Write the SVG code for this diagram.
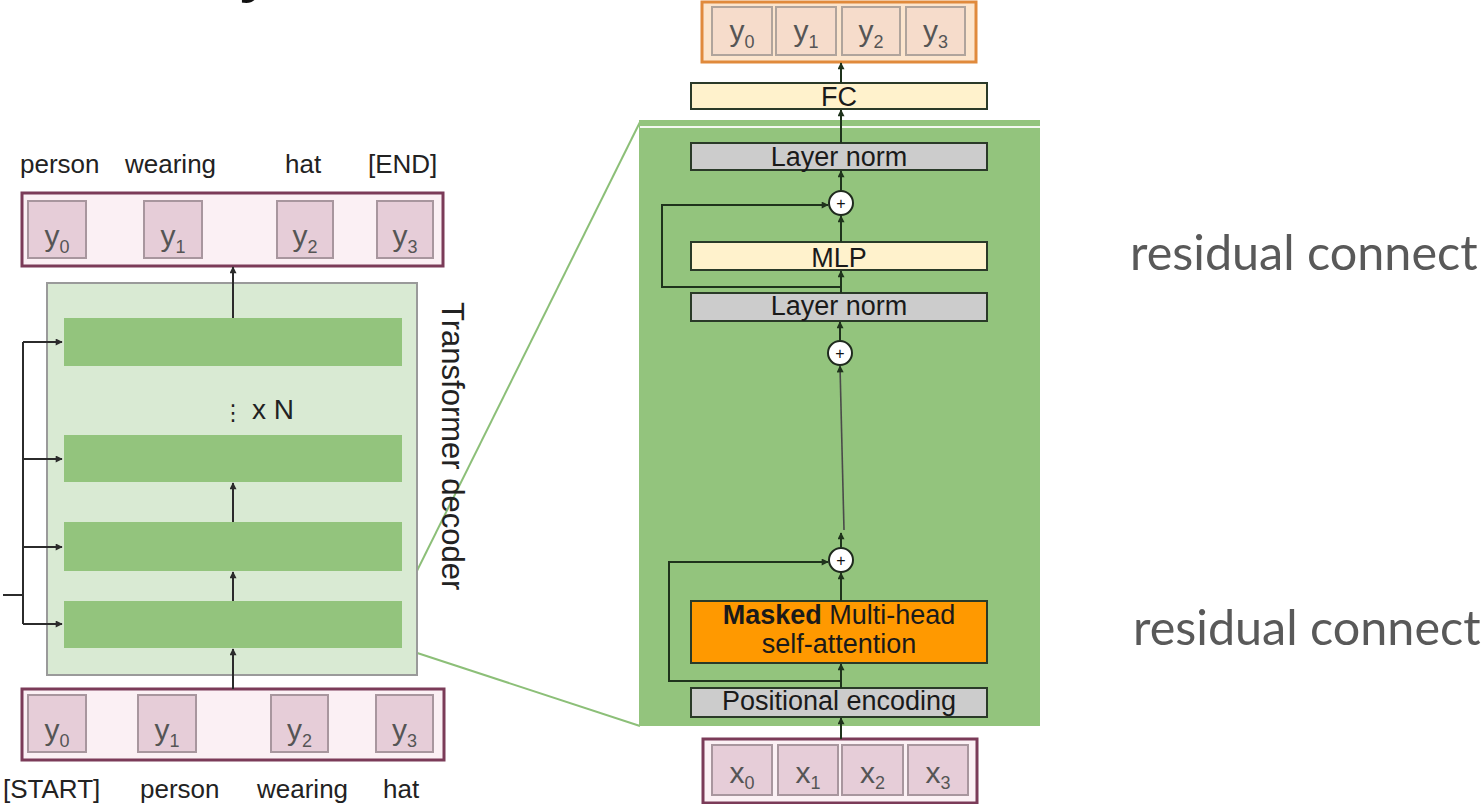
<svg xmlns="http://www.w3.org/2000/svg" width="1482" height="804" viewBox="0 0 1482 804">
<defs>
<marker id="ah" viewBox="0 0 10 10" refX="9" refY="5" markerWidth="8" markerHeight="7" markerUnits="userSpaceOnUse" orient="auto"><path d="M0,0 L10,5 L0,10 z" fill="#2b2b2b"/></marker>
<marker id="ahg" viewBox="0 0 10 10" refX="9" refY="5" markerWidth="8" markerHeight="7" markerUnits="userSpaceOnUse" orient="auto"><path d="M0,0 L10,5 L0,10 z" fill="#1f331c"/></marker>
</defs>
<style>
.lbl{font-family:"Liberation Sans",Arial,sans-serif;font-size:26px;fill:#222}
.sym{font-family:"Liberation Sans",Arial,sans-serif;font-size:30px;fill:#555}
.sub{font-size:18px}
.seqbox{fill:#fbf0f4;stroke:#7b3b58;stroke-width:3}
.cell{fill:#e6cdd8;stroke:#a8969e;stroke-width:2}
.ocell{fill:#f6dccb;stroke:#b0a49c;stroke-width:2}
.bar{fill:#93c47d}
.blk{font-family:"Liberation Sans",Arial,sans-serif;font-size:27px;fill:#1a1a1a;text-anchor:middle}
.gray{fill:#cccccc;stroke:#2a3a28;stroke-width:2}
.yel{fill:#fff2cc;stroke:#2a3a28;stroke-width:2}
.ln{stroke:#2b2b2b;stroke-width:2;fill:none}
.lg{stroke:#1f331c;stroke-width:2;fill:none}
.zoom{stroke:#8cbf78;stroke-width:2;fill:none}
.res{font-family:Lato,"Open Sans",sans-serif;font-size:48.5px;fill:#595959}
.plus{fill:#ffffff;stroke:#1f2a1e;stroke-width:2}
.pl{font-family:"Liberation Sans",sans-serif;font-size:16px;fill:#111;text-anchor:middle}
</style>

<text x="240" y="-10" font-family="'Open Sans',sans-serif" font-weight="bold" font-size="56" fill="#111">y</text>

<g id="zoom-lines">
<line class="zoom" x1="402" y1="601" x2="640" y2="122"/>
<line class="zoom" x1="402" y1="648" x2="640" y2="726"/>
</g>

<g id="top-labels">
<text class="lbl" x="20" y="173">person</text>
<text class="lbl" x="125" y="173">wearing</text>
<text class="lbl" x="285" y="173">hat</text>
<text class="lbl" x="368" y="173">[END]</text>
</g>

<g id="output-seq">
<rect class="seqbox" x="22" y="193" width="421" height="73"/>
<rect class="cell" x="28" y="201" width="58" height="57"/>
<rect class="cell" x="144" y="201" width="58" height="57"/>
<rect class="cell" x="277" y="201" width="56" height="57"/>
<rect class="cell" x="377" y="201" width="56" height="57"/>
<text class="sym" x="57" y="246" text-anchor="middle">y<tspan class="sub" dy="7">0</tspan></text>
<text class="sym" x="173" y="246" text-anchor="middle">y<tspan class="sub" dy="7">1</tspan></text>
<text class="sym" x="305" y="246" text-anchor="middle">y<tspan class="sub" dy="7">2</tspan></text>
<text class="sym" x="405" y="246" text-anchor="middle">y<tspan class="sub" dy="7">3</tspan></text>
</g>

<g id="transformer-decoder">
<rect x="47" y="283" width="370" height="392" fill="#d9ead3" stroke="#9a9a9a" stroke-width="2"/>
<rect class="bar" x="64" y="318" width="338" height="48"/>
<rect class="bar" x="64" y="435" width="338" height="47"/>
<rect class="bar" x="64" y="522" width="338" height="49"/>
<rect class="bar" x="64" y="601" width="338" height="47"/>
<text x="222" y="420" font-family="'DejaVu Sans',sans-serif" font-size="22" fill="#222">⋮</text>
<text x="252" y="419" font-family="'Liberation Sans',Arial,sans-serif" font-size="28" fill="#222">x N</text>
<text transform="translate(442,302) rotate(90)" font-family="'Liberation Sans',Arial,sans-serif" font-size="31" fill="#222">Transformer decoder</text>
</g>

<g id="input-seq">
<rect class="seqbox" x="22" y="689" width="422" height="71"/>
<rect class="cell" x="28" y="695" width="58" height="57"/>
<rect class="cell" x="138" y="695" width="58" height="57"/>
<rect class="cell" x="271" y="695" width="57" height="57"/>
<rect class="cell" x="376" y="695" width="57" height="57"/>
<text class="sym" x="57" y="740" text-anchor="middle">y<tspan class="sub" dy="7">0</tspan></text>
<text class="sym" x="167" y="740" text-anchor="middle">y<tspan class="sub" dy="7">1</tspan></text>
<text class="sym" x="299.5" y="740" text-anchor="middle">y<tspan class="sub" dy="7">2</tspan></text>
<text class="sym" x="404.5" y="740" text-anchor="middle">y<tspan class="sub" dy="7">3</tspan></text>
</g>

<g id="bottom-labels">
<text class="lbl" x="3" y="798">[START]</text>
<text class="lbl" x="140" y="798">person</text>
<text class="lbl" x="257" y="798">wearing</text>
<text class="lbl" x="383" y="798">hat</text>
</g>

<g id="decoder-block">
<rect x="639" y="120" width="401" height="606" fill="#93c47d"/>
<line x1="640" y1="127" x2="1040" y2="127" stroke="#f4f8f0" stroke-width="2"/>
</g>

<g id="output-probs">
<rect x="702" y="2" width="274" height="60" fill="#fce5cd" stroke="#e08a3c" stroke-width="3"/>
<rect class="ocell" x="712" y="7" width="60" height="48"/>
<rect class="ocell" x="776" y="7" width="60" height="48"/>
<rect class="ocell" x="842" y="7" width="58" height="48"/>
<rect class="ocell" x="906" y="7" width="59" height="48"/>
<text class="sym" x="742" y="41" text-anchor="middle">y<tspan class="sub" dy="7">0</tspan></text>
<text class="sym" x="806" y="41" text-anchor="middle">y<tspan class="sub" dy="7">1</tspan></text>
<text class="sym" x="871" y="41" text-anchor="middle">y<tspan class="sub" dy="7">2</tspan></text>
<text class="sym" x="935.5" y="41" text-anchor="middle">y<tspan class="sub" dy="7">3</tspan></text>
</g>

<g id="fc"><rect class="yel" x="691" y="83" width="296" height="26"/><text class="blk" x="839" y="106">FC</text></g>
<g id="layernorm-top"><rect class="gray" x="691" y="143" width="296" height="27"/><text class="blk" x="839" y="166">Layer norm</text></g>
<g id="mlp"><rect class="yel" x="691" y="242" width="296" height="28"/><text class="blk" x="839" y="267">MLP</text></g>
<g id="layernorm-mid"><rect class="gray" x="691" y="293" width="296" height="28"/><text class="blk" x="839" y="315">Layer norm</text></g>
<g id="masked-attention"><rect x="691" y="601" width="296" height="62" fill="#ff9900" stroke="#2a3a28" stroke-width="2"/>
<text class="blk" x="839" y="624"><tspan font-weight="bold">Masked</tspan> Multi-head</text>
<text class="blk" x="839" y="653">self-attention</text></g>
<g id="positional-encoding"><rect class="gray" x="691" y="688" width="296" height="29"/><text class="blk" x="839" y="710">Positional encoding</text></g>

<g id="input-tokens">
<rect x="703" y="739" width="274" height="64" fill="#fbf0f4" stroke="#7b3b58" stroke-width="3"/>
<rect class="cell" x="712" y="745" width="60" height="50"/>
<rect class="cell" x="778" y="745" width="60" height="50"/>
<rect class="cell" x="842" y="745" width="61" height="50"/>
<rect class="cell" x="908" y="745" width="60" height="50"/>
<text class="sym" x="742" y="783" text-anchor="middle">x<tspan class="sub" dy="6">0</tspan></text>
<text class="sym" x="808" y="783" text-anchor="middle">x<tspan class="sub" dy="6">1</tspan></text>
<text class="sym" x="872.5" y="783" text-anchor="middle">x<tspan class="sub" dy="6">2</tspan></text>
<text class="sym" x="938" y="783" text-anchor="middle">x<tspan class="sub" dy="6">3</tspan></text>
</g>

<g id="add-1"><circle class="plus" cx="841" cy="203" r="12"/><text class="pl" x="841" y="209">+</text></g>
<g id="add-2"><circle class="plus" cx="840" cy="353" r="12"/><text class="pl" x="840" y="359">+</text></g>
<g id="add-3"><circle class="plus" cx="841" cy="560" r="12"/><text class="pl" x="841" y="566">+</text></g>

<g id="connectors">
<line class="ln" x1="233" y1="318" x2="233" y2="267" marker-end="url(#ah)"/>
<line class="ln" x1="233" y1="522" x2="233" y2="483" marker-end="url(#ah)"/>
<line class="ln" x1="233" y1="601" x2="233" y2="572" marker-end="url(#ah)"/>
<line class="ln" x1="233" y1="689" x2="233" y2="649" marker-end="url(#ah)"/>
<line class="ln" x1="3" y1="595" x2="23" y2="595"/>
<line class="ln" x1="23" y1="342" x2="23" y2="624"/>
<line class="ln" x1="23" y1="342" x2="62" y2="342" marker-end="url(#ah)"/>
<line class="ln" x1="23" y1="459" x2="62" y2="459" marker-end="url(#ah)"/>
<line class="ln" x1="23" y1="547" x2="62" y2="547" marker-end="url(#ah)"/>
<line class="ln" x1="23" y1="624" x2="62" y2="624" marker-end="url(#ah)"/>

<line class="lg" x1="841" y1="739" x2="841" y2="718" marker-end="url(#ahg)"/>
<line class="lg" x1="841" y1="688" x2="841" y2="664" marker-end="url(#ahg)"/>
<line class="lg" x1="841" y1="601" x2="841" y2="573" marker-end="url(#ahg)"/>
<line class="lg" x1="841" y1="548" x2="841" y2="533" marker-end="url(#ahg)"/>
<line x1="844" y1="530" x2="840" y2="366" stroke="#4a4a4a" stroke-width="1.6" marker-end="url(#ahg)"/>
<line class="lg" x1="840" y1="341" x2="840" y2="322" marker-end="url(#ahg)"/>
<line class="lg" x1="841" y1="293" x2="841" y2="271" marker-end="url(#ahg)"/>
<line class="lg" x1="841" y1="242" x2="841" y2="216" marker-end="url(#ahg)"/>
<line class="lg" x1="841" y1="191" x2="841" y2="171" marker-end="url(#ahg)"/>
<line class="lg" x1="841" y1="143" x2="841" y2="110" marker-end="url(#ahg)"/>
<line class="lg" x1="841" y1="83" x2="841" y2="63" marker-end="url(#ahg)"/>
<polyline class="lg" points="841,287 662,287 662,205 828,205" marker-end="url(#ahg)"/>
<polyline class="lg" points="841,681 669,681 669,562 828,562" marker-end="url(#ahg)"/>
</g>

<g id="annotations">
<text class="res" x="1130" y="270">residual connect</text>
<text class="res" x="1133" y="645">residual connect</text>
</g>
</svg>
